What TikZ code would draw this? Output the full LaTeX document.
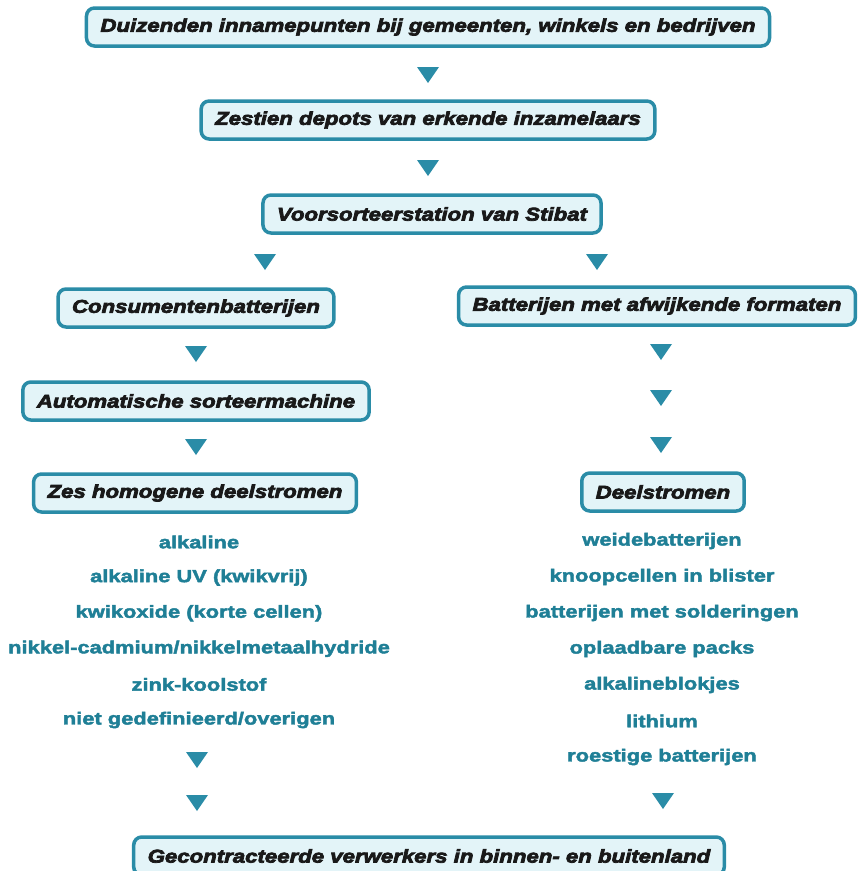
\documentclass[tikz,border=0pt]{standalone}
\usepackage{fontspec}
\usepackage{tikz}
\usetikzlibrary{positioning}
\setmainfont{Liberation Sans}
\newfontface\stapfont{Liberation Sans Bold Italic}[FakeStretch=1.2,FakeBold=4]
\newfontface\lijstfont{Liberation Sans Bold}[FakeStretch=1.25,FakeBold=2.5]
\definecolor{stibteal}{HTML}{2A8CA7}
\definecolor{stibfill}{HTML}{E3F4F8}
\definecolor{stibtekst}{HTML}{1F7F96}

% driehoekje dat de stroom aangeeft
\newcommand{\pijl}[2]{%
  \coordinate (#1) at (#2);
  \fill[stibteal] (#1) ++(-11,-8) -- ++(22,0) -- ++(-11,16) -- cycle;}

\begin{document}
\begin{tikzpicture}[
  x=1pt, y=-1pt,
  stap/.style={draw=stibteal,line width=3.5pt,rounded corners=8pt,fill=stibfill,
    inner xsep=14pt,minimum height=38pt,text=black!90,
    font=\stapfont\fontsize{18.5}{21}\selectfont},
  soort/.style={text=stibtekst,font=\lijstfont\fontsize{17.5}{20}\selectfont}
]
  \useasboundingbox (0,0) rectangle (860,871);

  \node[stap] (inname) at (428,27) {Duizenden innamepunten bij gemeenten, winkels en bedrijven};
  \node[stap] (depots) at (428,120) {Zestien depots van erkende inzamelaars};
  \node[stap] (voorsort) at (432,214) {Voorsorteerstation van Stibat};
  \node[stap] (consument) at (196,308) {Consumentenbatterijen};
  \node[stap] (afwijkend) at (657,306) {Batterijen met afwijkende formaten};
  \node[stap] (sorteer) at (196,401) {Automatische sorteermachine};
  \node[stap] (zes) at (195,493) {Zes homogene deelstromen};
  \node[stap] (deel) at (663,492) {Deelstromen};
  \node[stap] (verwerk) at (429,856) {Gecontracteerde verwerkers in binnen- en buitenland};

  % linker deelstromen
  \foreach \tekst [count=\i] in {alkaline,alkaline UV (kwikvrij),kwikoxide (korte cellen),
      nikkel-cadmium/nikkelmetaalhydride,zink-koolstof,niet gedefinieerd/overigen}
    \node[soort] (links\i) at (199,{542+35.6*(\i-1)}) {\tekst};

  % rechter deelstromen
  \foreach \tekst [count=\i] in {weidebatterijen,knoopcellen in blister,batterijen met solderingen,
      oplaadbare packs,alkalineblokjes,lithium,roestige batterijen}
    \node[soort] (rechts\i) at (662,{541+36*(\i-1)}) {\tekst};

  \pijl{p1}{428,75}
  \pijl{p2}{428,168}
  \pijl{p3}{265,262}
  \pijl{p4}{597,262}
  \pijl{p5}{196,354}
  \pijl{p6}{196,447}
  \pijl{p7}{661,352}
  \pijl{p8}{661,398}
  \pijl{p9}{661,445}
  \pijl{p10}{197,760}
  \pijl{p11}{197,803}
  \pijl{p12}{663,801}
\end{tikzpicture}
\end{document}
